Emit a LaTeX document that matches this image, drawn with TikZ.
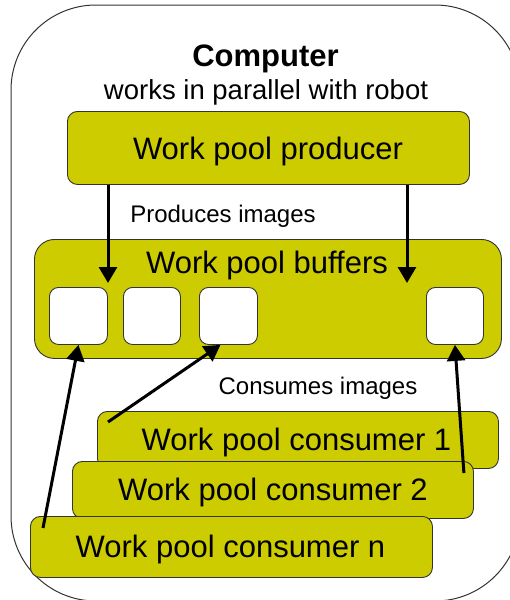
\documentclass[tikz,border=0pt]{standalone}
\usepackage{fontspec}
\setmainfont{Liberation Sans}
\usetikzlibrary{arrows.meta,calc}
\definecolor{pool}{RGB}{204,204,0}
\definecolor{edge}{RGB}{51,51,51}
\begin{document}
\begin{tikzpicture}[x=1pt,y=-1pt,
  poolbox/.style={draw=edge,line width=0.9pt,fill=pool,rounded corners=10pt,
    inner sep=0pt,anchor=north west},
  slot/.style={draw=edge,line width=0.9pt,fill=white,rounded corners=9pt,
    inner sep=0pt,anchor=north west,minimum width=58pt,minimum height=57pt},
  big/.style={font=\fontsize{31}{37}\selectfont,anchor=base,inner sep=0pt},
  note/.style={font=\fontsize{24}{29}\selectfont,anchor=base,inner sep=0pt},
  flow/.style={line width=3pt,-{Triangle[width=18pt,length=16pt]}},
]
\useasboundingbox (0,0) rectangle (510,600);

% computer frame, running past the right and bottom edges
\begin{scope}
  \clip (0,0) rectangle (510,600);
  \draw[edge,line width=1pt,rounded corners=85pt] (11,5) rectangle (520,601);
\end{scope}

\node[font=\fontsize{31}{37}\selectfont\bfseries,anchor=base,inner sep=0pt]
  (title) at (265.5,66) {Computer};
\node[font=\fontsize{27.5}{33}\selectfont,anchor=base,inner sep=0pt]
  (subtitle) at (266,99) {works in parallel with robot};

% producer
\node[poolbox,minimum width=402pt,minimum height=73pt] (prod) at (67,111) {};
\node[big] (prodtext) at (268,159) {Work pool producer};

\node[note] (produces) at (223,222) {Produces images};

% buffers
\node[poolbox,rounded corners=20pt,minimum width=467pt,minimum height=119pt]
  (buf) at (34,239) {};
\node[big] (buftext) at (267,273) {Work pool buffers};
\node[slot] (b1) at (49,287) {};
\node[slot,minimum width=57pt] (b2) at (123,287) {};
\node[slot] (b3) at (199,287) {};
\node[slot,minimum width=57pt] (b4) at (426,287) {};

\node[note] (consumes) at (318,394) {Consumes images};

% consumers, stacked back to front
\node[poolbox,minimum width=401pt,minimum height=57pt] (c1) at (97,411) {};
\node[big] (c1text) at (296.5,450) {Work pool consumer 1};
\node[poolbox,minimum width=401pt,minimum height=57pt] (c2) at (72,461) {};
\node[big] (c2text) at (273,500) {Work pool consumer 2};
\node[poolbox,minimum width=402pt,minimum height=61pt] (cn) at (30,516) {};
\node[big] (cntext) at (230.5,557) {Work pool consumer n};

% arrow ends
\coordinate (t1) at (108,283);
\coordinate (t2) at (407,283);
\coordinate (s1) at ($(c1.north west)+(11,11)$);
\coordinate (s2) at ($(c2.north east)+(-10,12)$);
\coordinate (sn) at ($(cn.north west)+(13,12)$);

% producing
\draw[flow] (prod.south -| t1) -- (t1);
\draw[flow] (prod.south -| t2) -- (t2);

% consuming
\draw[flow] (sn) -- (b1.south);
\draw[flow] (s1) -- ($(b3.south)+(-8,0)$);
\draw[flow] (s2) -- (b4.south);
\end{tikzpicture}
\end{document}
